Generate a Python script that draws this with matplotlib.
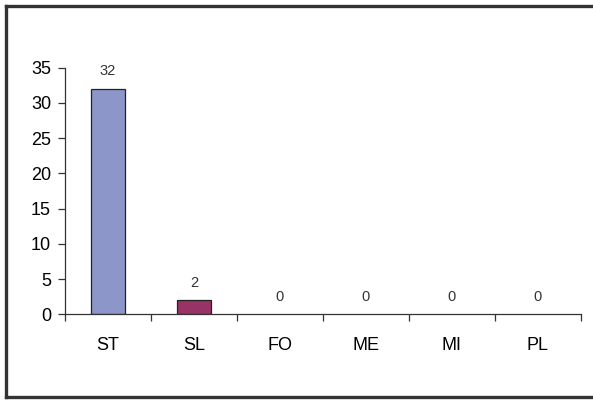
import matplotlib.pyplot as plt
from matplotlib.lines import Line2D

plt.rcParams['font.family'] = ['Liberation Sans', 'DejaVu Sans']

categories = ['ST', 'SL', 'FO', 'ME', 'MI', 'PL']
counts = [32, 2, 0, 0, 0, 0]
bar_colors = ['#8c96c8', '#993366', '#8c96c8', '#8c96c8', '#8c96c8', '#8c96c8']

fig = plt.figure(figsize=(5.93, 4.00), dpi=100)
ax = fig.add_axes([0.1096, 0.2143, 0.870, 0.6165])

x = list(range(len(categories)))
edge_w = [0.9 if v > 0 else 0 for v in counts]
ax.bar(x, counts, width=0.4, color=bar_colors, edgecolor='#222222', linewidth=edge_w)

for xi, v in zip(x, counts):
    ax.annotate(str(v), (xi, v), xytext=(0, 12.5), textcoords='offset points',
                ha='center', va='center', fontsize=10.5, color='#333333')

ax.set_xlim(-0.5, len(categories) - 0.5)
ax.set_ylim(0, 35)
ax.set_yticks(range(0, 36, 5))
ax.set_xticks(x)
ax.set_xticklabels(categories)
ax.set_xticks([i - 0.5 for i in range(len(categories) + 1)], minor=True)

ax.tick_params(axis='y', direction='out', length=5, width=0.9, color='#333333',
               labelsize=13, pad=5)
ax.tick_params(axis='x', which='major', length=0, labelsize=13, pad=16)
ax.tick_params(axis='x', which='minor', direction='out', length=5, width=0.9,
               color='#333333')

for side in ['top', 'right']:
    ax.spines[side].set_visible(False)
for side in ['left', 'bottom']:
    ax.spines[side].set_color('#333333')
    ax.spines[side].set_linewidth(0.9)

# outer frame (open on the right)
frame_kw = dict(color='#333333', linewidth=2.4, transform=fig.transFigure)
fig.add_artist(Line2D([0.0093, 1.0], [0.985, 0.985], **frame_kw))
fig.add_artist(Line2D([0.0093, 1.0], [0.0075, 0.0075], **frame_kw))
fig.add_artist(Line2D([0.0093, 0.0093], [0.0075, 0.985], **frame_kw))

fig.savefig('out.png', dpi=100)
